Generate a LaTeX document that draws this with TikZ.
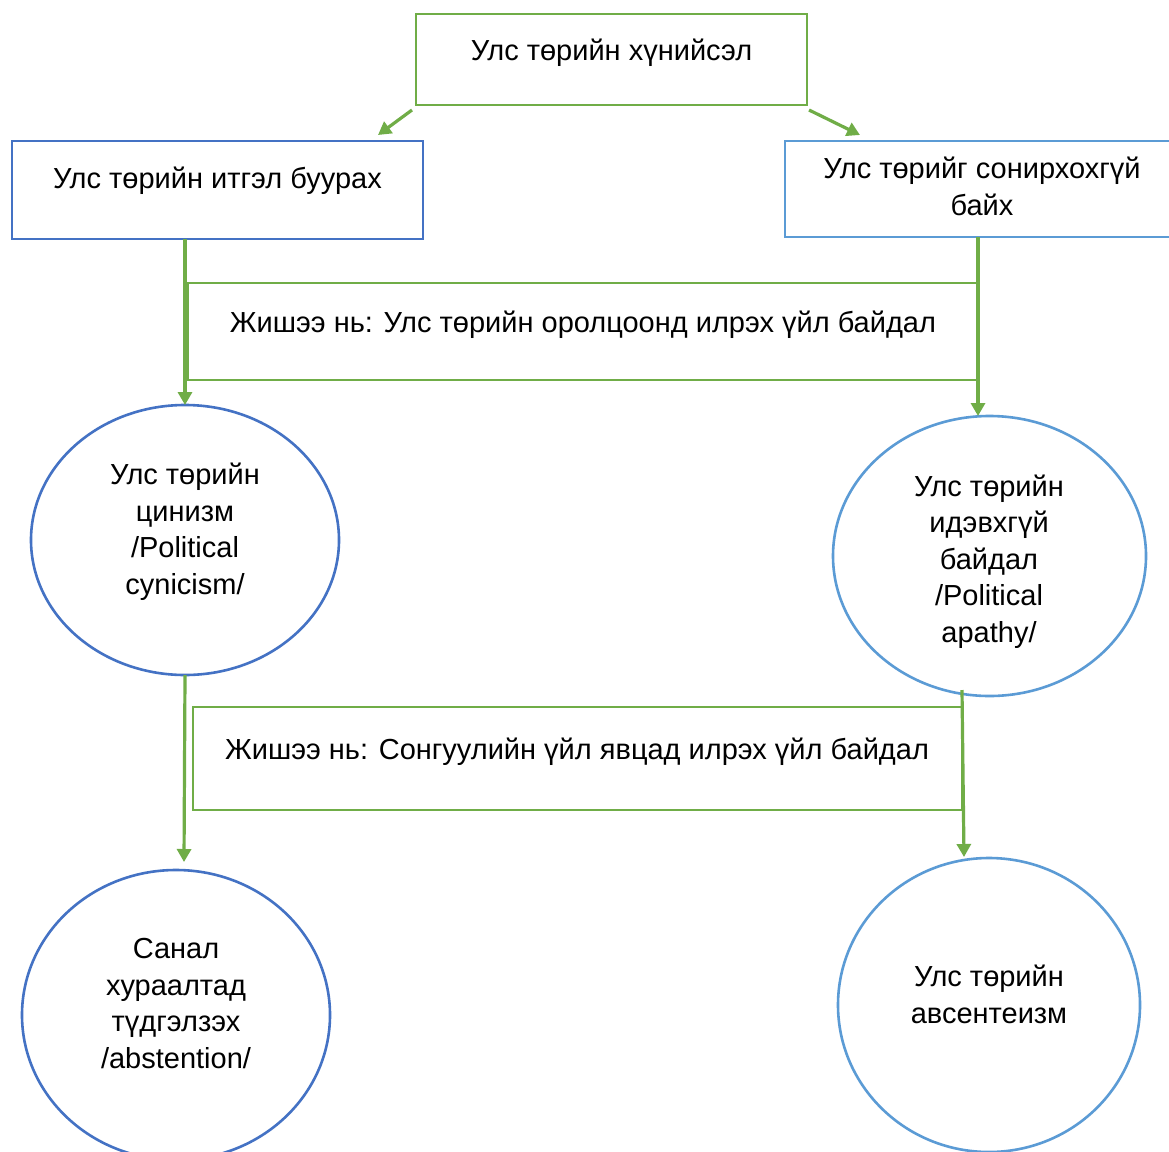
\documentclass[tikz,border=0pt]{standalone}
\usepackage{fontspec}
\setmainfont{Liberation Sans}
\usetikzlibrary{shapes.geometric,arrows.meta}
\definecolor{cgreen}{RGB}{112,173,71}
\definecolor{cblue}{RGB}{68,114,196}
\definecolor{clight}{RGB}{91,155,213}
\begin{document}
\begin{tikzpicture}[x=1pt,y=-1pt,
  txt/.style={font=\fontsize{29}{36.5}\selectfont, align=center, anchor=base, inner sep=0pt, outer sep=0pt},
  box/.style={rectangle, line width=2.8pt, inner sep=0pt, outer sep=0pt},
  oval/.style={ellipse, line width=2.6pt, inner sep=0pt, outer sep=0pt},
  arr/.style={draw=cgreen, line width=3.2pt, -{Triangle[width=14pt,length=13pt]}}
]
\fill[white] (0,0) rectangle (1169,1151);
\useasboundingbox (0,0) rectangle (1169,1151);

% boxes
\node[box, draw=cgreen, minimum width=391pt, minimum height=91pt] (hn) at (611.5,59.5) {};
\node[box, draw=cblue, minimum width=411pt, minimum height=98pt] (lb) at (217.5,190) {};
\node[box, draw=clight, minimum width=394pt, minimum height=96pt] (rb) at (982,189) {};
\node[box, draw=cgreen, minimum width=790pt, minimum height=97pt] (ex1) at (583,331.5) {};
\node[box, draw=cgreen, minimum width=769pt, minimum height=103pt] (ex2) at (577.5,758.5) {};

% ellipses
\node[oval, draw=cblue, minimum width=308pt, minimum height=270pt] (lc) at (185,540) {};
\node[oval, draw=clight, minimum width=313pt, minimum height=280pt] (rc) at (989.5,556) {};
\node[oval, draw=cblue, minimum width=308pt, minimum height=290pt] (bl) at (176,1015) {};
\node[oval, draw=clight, minimum width=302pt, minimum height=294pt] (br) at (989,1005) {};

% texts (base anchor = baseline of the last line)
\node[txt] (thn) at (611.5,60) {Улс төрийн хүнийсэл};
\node[txt] (tlb) at (217.5,188) {Улс төрийн итгэл буурах};
\node[txt] (trb) at (982,215) {Улс төрийг сонирхохгүй\\байх};
\node[txt] (tex1) at (583,332) {Жишээ нь: Улс төрийн оролцоонд илрэх үйл байдал};
\node[txt] (tex2) at (577,759) {Жишээ нь: Сонгуулийн үйл явцад илрэх үйл байдал};
\node[txt] (tlc) at (185,594) {Улс төрийн\\цинизм\\/Political\\cynicism/};
\node[txt] (trc) at (989,642) {Улс төрийн\\идэвхгүй\\байдал\\/Political\\apathy/};
\node[txt] (tbl) at (176,1068) {Санал\\хураалтад\\түдгэлзэх\\/abstention/};
\node[txt] (tbr) at (989,1023) {Улс төрийн\\авсентеизм};

% connectors
\coordinate (a1) at (378,135);
\coordinate (a2) at (860,135);
\coordinate (a3) at (184,862);
\coordinate (s4) at (962,690);
\coordinate (a4) at (964,857);
\draw[arr] ([shift={(-4,5)}]hn.south west) -- (a1);
\draw[arr] ([shift={(2,5)}]hn.south east) -- (a2);
\draw[arr] (lc.north |- lb.south) -- (lc.north);
\draw[arr] (ex1.east |- rb.south) -- (ex1.east |- rc.north);
\draw[arr] (lc.south) -- (a3);
\draw[arr] (s4) -- (a4);
\end{tikzpicture}
\end{document}
